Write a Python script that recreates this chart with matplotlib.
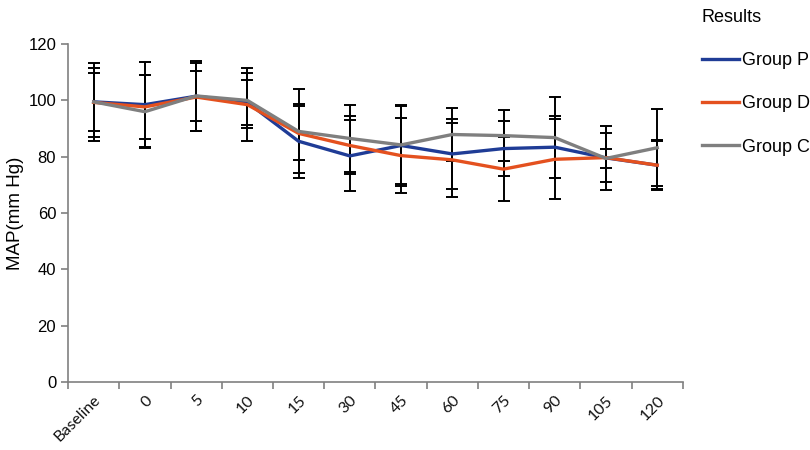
import matplotlib.pyplot as plt
import numpy as np

time_labels = ["Baseline", "0", "5", "10", "15", "30", "45", "60", "75", "90", "105", "120"]

group_p = [99.5, 98.5, 101.5, 99.3, 85.5, 80.3, 84.0, 81.0, 82.9, 83.4, 79.6, 77.0]
group_d = [99.3, 97.7, 101.2, 98.5, 88.3, 84.0, 80.4, 78.9, 75.6, 79.1, 79.7, 77.0]
group_c = [99.5, 96.0, 101.6, 100.0, 89.0, 86.5, 84.2, 87.9, 87.5, 86.8, 79.4, 83.2]

sd_p = [13.8, 15.0, 12.5, 8.1, 13.2, 12.6, 14.5, 12.5, 9.8, 11.0, 11.3, 8.6]
sd_d = [12.3, 11.5, 12.0, 13.0, 9.6, 10.3, 13.2, 13.2, 11.4, 14.2, 8.7, 8.9]
sd_c = [10.3, 13.0, 8.8, 9.9, 14.9, 11.8, 13.9, 9.5, 9.1, 14.5, 3.3, 13.7]

series = [("Group P", group_p, sd_p, "#1f3c96"),
          ("Group D", group_d, sd_d, "#e4511f"),
          ("Group C", group_c, sd_c, "#7f7f7f")]

plt.rcParams['font.family'] = ['Liberation Sans', 'DejaVu Sans']

fig = plt.figure(figsize=(8.1, 4.5), dpi=100)
ax = fig.add_axes([0.084, 0.151, 0.759, 0.751])

x = np.arange(len(time_labels))
for name, vals, sds, col in series:
    ax.errorbar(x, vals, yerr=sds, fmt='none', ecolor='black', elinewidth=1.4,
                capsize=4, capthick=1.4, zorder=2)
for name, vals, sds, col in series:
    ax.plot(x, vals, color=col, linewidth=2.4, label=name, zorder=3)

ax.set_xlim(-0.5, len(time_labels) - 0.5)
ax.set_ylim(0, 120)
ax.set_yticks(range(0, 121, 20))
ax.set_xticks(x)
ax.set_xticks(np.arange(-0.5, len(time_labels), 1), minor=True)
ax.set_xticklabels(time_labels, rotation=45, ha='right', rotation_mode='anchor',
                   fontsize=11.5, family=['Lato', 'DejaVu Sans'], color='#111111')
ax.tick_params(axis='x', which='major', length=0, pad=8)
ax.tick_params(axis='x', which='minor', length=5, color='#808080', width=1.2)
ax.tick_params(axis='y', length=5, color='#808080', width=1.2, labelsize=12)
for s in ['top', 'right']:
    ax.spines[s].set_visible(False)
for s in ['left', 'bottom']:
    ax.spines[s].set_color('#808080')
    ax.spines[s].set_linewidth(1.2)
ax.set_ylabel("MAP(mm Hg)", fontsize=13.5, labelpad=3)

leg = fig.legend(loc='upper left', bbox_to_anchor=(0.855, 1.0), frameon=False,
                 title="Results", fontsize=13, title_fontsize=13,
                 handlelength=2.1, handletextpad=0.15, labelspacing=1.45,
                 alignment='left', borderaxespad=0.1)

fig.savefig("out.png", dpi=100)
